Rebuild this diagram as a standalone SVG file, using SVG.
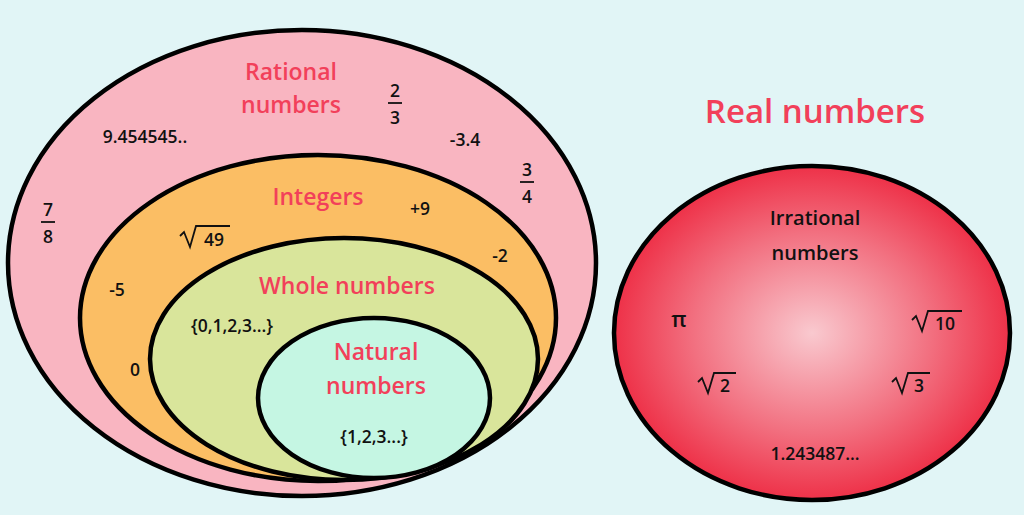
<svg xmlns="http://www.w3.org/2000/svg" width="1024" height="515" viewBox="0 0 1024 515">
<style>
.e{stroke:#000;stroke-width:4.5}
.t{font-family:"Open Sans","Liberation Sans",sans-serif;font-size:23px;font-weight:600;fill:#f2405a;text-anchor:middle}
.n{font-family:"Open Sans","Liberation Sans",sans-serif;font-size:17.5px;font-weight:600;fill:#111;text-anchor:middle}
.s{stroke:#111;stroke-width:1.8;fill:none}
</style>
<defs>
<radialGradient id="rg" cx="0.5" cy="0.5" r="0.5">
<stop offset="0" stop-color="#f9c9cf"/>
<stop offset="0.6" stop-color="#f27080"/>
<stop offset="1" stop-color="#ee3148"/>
</radialGradient>
</defs>
<rect width="1024" height="515" fill="#e1f5f6"/>
<g id="rational">
<ellipse class="e" cx="302" cy="263" rx="294" ry="233" fill="#f9b5c1"/>
<text class="t" x="291" y="80">Rational</text>
<text class="t" x="291" y="113">numbers</text>
<text class="n" x="145" y="143">9.454545..</text>
<text class="n" x="465" y="146">-3.4</text>
<text class="n" x="395" y="97">2</text><line class="s" x1="388" y1="103" x2="402" y2="103"/><text class="n" x="395" y="124">3</text>
<text class="n" x="527" y="176">3</text><line class="s" x1="520" y1="182" x2="534" y2="182"/><text class="n" x="527" y="203">4</text>
<text class="n" x="48" y="216">7</text><line class="s" x1="41" y1="222" x2="55" y2="222"/><text class="n" x="48" y="243">8</text>
</g>
<g id="integers">
<ellipse class="e" cx="318" cy="318" rx="238" ry="163" fill="#fbbe64"/>
<text class="t" x="318" y="205">Integers</text>
<text class="n" x="420" y="215">+9</text>
<text class="n" x="500" y="262">-2</text>
<text class="n" x="117" y="296">-5</text>
<text class="n" x="135" y="376">0</text>
<path class="s" d="M180 236 L184 232 L190 247 L196 226 L230 226"/>
<text class="n" x="214" y="246">49</text>
</g>
<g id="whole">
<ellipse class="e" cx="344" cy="359" rx="194" ry="121" fill="#d9e59b"/>
<text class="t" x="347" y="294">Whole numbers</text>
<text class="n" x="232" y="332">{0,1,2,3...}</text>
</g>
<g id="natural">
<ellipse class="e" cx="374" cy="398" rx="116" ry="80" fill="#c5f6e3"/>
<text class="t" x="376" y="360">Natural</text>
<text class="t" x="376" y="394">numbers</text>
<text class="n" x="374" y="443">{1,2,3...}</text>
</g>
<g id="real">
<text class="t" x="815" y="123" style="font-size:33px">Real numbers</text>
</g>
<g id="irrational">
<ellipse class="e" cx="812" cy="333" rx="198" ry="167" fill="url(#rg)"/>
<text class="n" x="815" y="225" style="font-size:20px">Irrational</text>
<text class="n" x="815" y="260" style="font-size:20px">numbers</text>
<text class="n" x="679" y="327" style="font-size:22px">π</text>
<path class="s" d="M912 320 L916 316 L922 331 L928 311 L962 311"/>
<text class="n" x="945" y="330">10</text>
<path class="s" d="M698 382 L702 378 L708 393 L714 373 L736 373"/>
<text class="n" x="725" y="392">2</text>
<path class="s" d="M892 382 L896 378 L902 393 L908 373 L930 373"/>
<text class="n" x="919" y="392">3</text>
<text class="n" x="815" y="460">1.243487...</text>
</g>
<g id="connectors"/>
</svg>
